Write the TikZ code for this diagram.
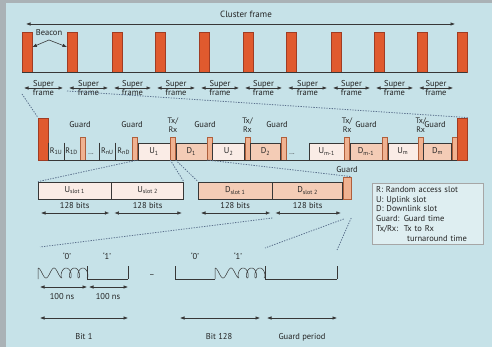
\documentclass[tikz,border=0pt]{standalone}
\usepackage{fontspec}
\setmainfont{PT Sans}
\usetikzlibrary{arrows.meta,positioning,calc}
\definecolor{bgblue}{RGB}{198,226,232}
\definecolor{frameg}{RGB}{170,178,182}
\definecolor{barfill}{RGB}{224,90,46}
\definecolor{barline}{RGB}{160,60,35}
\definecolor{gfill}{RGB}{240,178,145}
\definecolor{gline}{RGB}{175,95,60}
\definecolor{ufill}{RGB}{250,236,230}
\definecolor{dfill}{RGB}{244,204,182}
\definecolor{linec}{RGB}{55,55,55}
\definecolor{dotc}{RGB}{90,112,140}
\definecolor{txtc}{RGB}{35,35,35}
\definecolor{keyfill}{RGB}{222,238,241}

\begin{document}
\begin{tikzpicture}[x=1pt,y=-1pt,>={Latex[length=4.5pt,width=3.5pt]}]
  \tikzset{beacon/.style={draw=barline,fill=barfill,minimum width=10pt,minimum height=40pt,inner sep=0,anchor=south west},
    bigbar/.style={beacon,minimum height=42pt},
    gbar/.style={draw=gline,fill=gfill,minimum width=5pt,minimum height=23pt,inner sep=0,anchor=south west},
    uslot/.style={draw=linec,fill=ufill,minimum height=17pt,inner sep=0,anchor=south west,font=\fontsize{8.5}{9}\selectfont,text=txtc},
    dslot/.style={uslot,fill=dfill},
    rslot/.style={minimum height=17pt,inner sep=0,anchor=south west,font=\fontsize{8}{9}\selectfont,text=txtc},
    lab/.style={font=\fontsize{8.5}{9}\selectfont,inner sep=0,text=txtc,align=center},
    arr/.style={<->,draw=linec,line width=0.6pt},
    line/.style={draw=linec,line width=0.6pt},
    dots/.style={draw=dotc,line width=0.8pt,dash pattern=on 1.3pt off 1.3pt}}
  \useasboundingbox (0,0) rectangle (492,347);
  \fill[frameg] (0,0) rectangle (492,347);
  \fill[bgblue] (6,3) rectangle (492,347);
  % cluster frame with beacons
  \foreach \x [count=\i] in {22,67,112,155,199,243,286,331,374,417,457}{
    \node[beacon] (b\i) at (\x,72) {};
    \coordinate (sl\i) at (\x+2,88);\coordinate (sr\i) at (\x-4,88);}
  \draw[line] (b1.south west) -- (b11.south east);
  \coordinate (cl) at (26,24);\coordinate (cr) at (455,24);
  \draw[arr] (cl) -- (cr);
  \node[lab,font=\fontsize{9}{10}\selectfont] (cf) at (246,14) {Cluster frame};
  \node[lab] (bc) at (49,33) {Beacon};\coordinate (bk) at (49,40);
  \draw[arr] (b1.east |- 0,47) -- (bk) -- (b2.west |- 0,47);
  \foreach \i in {1,...,10}{
    \pgfmathtruncatemacro\j{\i+1}
    \draw[arr] (sl\i) -- (sr\j);
    \node[lab] (sf\i) at ($(sl\i)!0.5!(sr\j)$) {Super\\frame};}
  % one superframe
  \node[bigbar] (L) at (38,160) {};
  \node[rslot,minimum width=15pt] (r1u) at (L.south east) {R\textsubscript{1U}};
  \node[rslot,minimum width=15pt] (r1d) at (r1u.south east) {R\textsubscript{1D}};
  \node[gbar] (g1) at ([xshift=1pt]r1d.south east) {};
  \node[rslot,minimum width=15pt] (rnu) at ([xshift=14pt]g1.south east) {R\textsubscript{nU}};
  \node[rslot,minimum width=17pt] (rnd) at (rnu.south east) {R\textsubscript{nD}};
  \node[gbar] (g2) at (rnd.south east) {};
  \node[uslot,minimum width=32pt] (u1) at (g2.south east) {U\textsubscript{1}};
  \node[gbar] (tx1) at (u1.south east) {};
  \node[dslot,minimum width=31pt] (d1) at (tx1.south east) {D\textsubscript{1}};
  \node[gbar] (g3) at (d1.south east) {};
  \node[uslot,minimum width=32pt] (u2) at (g3.south east) {U\textsubscript{2}};
  \node[gbar] (tx2) at (u2.south east) {};
  \node[dslot,minimum width=30pt] (d2) at (tx2.south east) {D\textsubscript{2}};
  \node[gbar] (g4) at (d2.south east) {};
  \node[uslot,minimum width=35pt] (um1) at ([xshift=23pt]g4.south east) {U\textsubscript{m-1}};
  \node[gbar] (tx3) at (um1.south east) {};
  \node[dslot,minimum width=32pt] (dm1) at (tx3.south east) {D\textsubscript{m-1}};
  \node[gbar] (g5) at (dm1.south east) {};
  \node[uslot,minimum width=30pt] (um) at (g5.south east) {U\textsubscript{m}};
  \node[gbar] (tx4) at (um.south east) {};
  \node[dslot,minimum width=28pt] (dm) at (tx4.south east) {D\textsubscript{m}};
  \node[gbar] (g6) at (dm.south east) {};
  \node[bigbar] (Rb) at (g6.south east) {};
  \draw[line] (L.south east) -- (Rb.south west);
  \foreach \n in {r1u,r1d,rnu,rnd}{\draw[line] (\n.north west) -- (\n.south west);}
  \node[lab,font=\fontsize{7}{8}\selectfont] (dt1) at (91,154) {...};
  \node[lab,font=\fontsize{7}{8}\selectfont] (dt2) at (292,154) {...};
  \foreach \x in {80,132,205,277,366,435}{\node[lab] at (\x,125) {Guard};}
  \foreach \t in {tx1,tx2,tx3,tx4}{\node[lab,font=\fontsize{8}{9}\selectfont] at (\t.north |- 0,125) {Tx/\\Rx};}
  \draw[dots] (b1.south west |- 0,94) -- (L.north west);
  \draw[dots] (b2.south west |- 0,91) -- (Rb.north east);
  % slots
  \node[uslot,minimum width=73pt] (us1) at (38,199) {U\textsubscript{slot 1}};
  \node[uslot,minimum width=72pt] (us2) at (us1.south east) {U\textsubscript{slot 2}};
  \node[dslot,minimum width=74pt] (ds1) at (198,199) {D\textsubscript{slot 1}};
  \node[dslot,minimum width=70pt] (ds2) at (ds1.south east) {D\textsubscript{slot 2}};
  \node[gbar,minimum width=8pt,minimum height=22pt] (gd) at (ds2.south east) {};
  \node[lab] at (gd.north |- 0,170) {Guard};
  \foreach \s in {us1,us2,ds1,ds2}{
    \node[lab] at (\s.south |- 0,206) {128 bits};
    \draw[arr] ($(\s.south west)+(3,14)$) -- ($(\s.south east)+(-2,14)$);}
  \draw[dots] (u1.south west) -- (us1.north west);
  \draw[dots] (u1.south east) -- (us2.north east);
  \draw[dots] (d1.south west) -- (ds1.north west);
  \draw[dots] (d1.south east) -- (gd.north east);
  % bits
  \coordinate (w0) at (38,279);\coordinate (w1) at (87,279);\coordinate (w2) at (128,279);
  \coordinate (w3) at (175,279);\coordinate (w4) at (215,279);\coordinate (w5) at (265,279);\coordinate (w6) at (337,279);
  \foreach \xo in {38,215}{
    \draw[line,line width=0.5pt] (\xo,279) -- (\xo,268)
      plot[domain=0:24,samples=40] ({\xo+\x},{273-5*cos(\x*360/16)})
      plot[domain=0:1080,samples=160] ({\xo+24+0.02314*\x-2.65*sin(\x)},{278-5*(1-cos(\x))});}
  \draw[line] (w1) -- (w2) (w3) -- (w4) (w5) -- (w6);
  \foreach \t in {w1,w2,w3,w5,w6}{\draw[line] ([yshift=13pt]\t) -- (\t);}
  \node[lab] at (152,276) {–};
  \node[lab] at (67,256) {`0'};\node[lab] at (107,256) {`1'};
  \node[lab] at (195,256) {`0'};\node[lab] at (238,256) {`1'};
  \draw[arr] ($(w0)+(2,8)$) -- ($(w1)+(0,8)$);
  \draw[arr] ($(w1)+(2,8)$) -- ($(w2)+(0,8)$);
  \node[lab] at (62,297) {100 ns};\node[lab] at (108,297) {100 ns};
  \draw[arr] ($(w0)+(2,39)$) -- ($(w2)+(0,39)$);
  \draw[arr] ($(w3)+(5,39)$) -- ($(w5)+(-5,39)$);
  \draw[arr] ($(w5)+(2,39)$) -- ($(w6)+(0,39)$);
  \node[lab] at (84,337) {Bit 1};\node[lab] at (219,337) {Bit 128};\node[lab] at (302,337) {Guard period};
  \coordinate (e0) at (40,247);\coordinate (e1) at (265,248);\coordinate (e2) at (337,250);
  \draw[dots] ($(ds2.south west)+(0,19)$) -- (e0);
  \draw[dots] ($(gd.south west)+(1,20)$) -- (e1);
  \draw[dots] ($(gd.south east)+(0,19)$) -- (e2);
  % key
  \node[draw=gray!70,fill=keyfill,anchor=north west,inner xsep=4pt,inner ysep=3pt,text width=103pt,align=left,
    font=\fontsize{8.5}{9.8}\selectfont,text=txtc] (key) at (372,183)
    {R: Random access slot\\U: Uplink slot\\D: Downlink slot\\Guard: Guard time\\Tx/Rx:\ \ Tx to Rx\\\hspace*{31pt}turnaround time};
\end{tikzpicture}
\end{document}
